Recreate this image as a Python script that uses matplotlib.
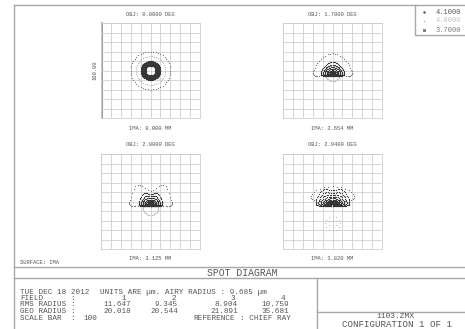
import matplotlib

matplotlib.use("Agg")
import matplotlib.pyplot as plt
import numpy as np

FIELD_DEG = [0.0, 1.7, 2.0, 2.94]
IMA_MM = [0.000, 2.654, 3.125, 3.820]
WAVELENGTHS_UM = [4.1, 4.8, 3.7]
RMS_RADIUS = [11.647, 9.345, 8.904, 10.759]
GEO_RADIUS = [20.018, 20.544, 21.891, 35.681]
AIRY_RADIUS = 9.685
SCALE_BAR = 100

# transverse ray error terms (um) per field (rows) and wavelength (columns)
SPOT_AX = [[10, 15, 20], [12, 8, 19.5], [12, 8, 21.5], [17, 8, 22]]
SPOT_AY = [[10, 15, 20], [7, 8, 11], [6.5, 8, 8], [8.5, 8, 8]]
SPOT_Q = [[0, 0, 0], [5, 0, 9.5], [3.5, 0, 5], [4.5, 0, 3]]
SPOT_H = [[0, 0, 0], [0, 0, 0], [4, 0, 14], [5, 0, 0]]
SPOT_DY = [[0, 0, 0], [-3, -3, -2.5], [-2, -6, -2], [-1, -23, 5]]
PUPIL_RINGS = [[12, 8, 8], [10, 8, 8], [10, 8, 8], [10, 2, 5]]
PUPIL_OBSC = [[0.5, 0.95, 0.95], [0.0, 0.95, 0.95], [0.0, 0.95, 0.95], [0.0, 0.4, 0.95]]
PUPIL_POWER = [[1, 1, 1], [2, 1, 1], [2, 1, 1], [1.7, 1, 1]]

WAVE_COLORS = ["#363636", "#bdbdbd", "#7a7a7a"]
KEY_COLORS = ["#555555", "#c4c4c4", "#7a7a7a"]
TEXT_COLOR = "#555555"
LINE_COLOR = "#a8a8a8"
GRID_COLOR = "#cccccc"
FONT = "Liberation Mono"

W, H = 465, 329


def spot_points(f, w):
    """Hexapolar pupil sampling pushed through the ray error terms."""
    n = PUPIL_RINGS[f][w]
    xs, ys = [], []
    for k in range(1, n + 1):
        rho = k / n
        if rho < PUPIL_OBSC[f][w]:
            continue
        r = rho ** PUPIL_POWER[f][w]
        th = np.linspace(0, 2 * np.pi, 6 * k, endpoint=False)
        c, s = np.cos(th), np.sin(th)
        ex = SPOT_AX[f][w] * r * s
        ey = (SPOT_AY[f][w] * r * c
              + SPOT_Q[f][w] * r ** 2 * c ** 2
              + SPOT_H[f][w] * r ** 3 * np.sin(2 * th) ** 2 * np.clip(c, 0, None)
              + SPOT_DY[f][w])
        xs.append(ex)
        ys.append(ey)
    return np.concatenate(xs), np.concatenate(ys)


fig = plt.figure(figsize=(W / 100, H / 100), dpi=100)
frame = fig.add_axes([0, 0, 1, 1])
frame.set_xlim(0, W)
frame.set_ylim(H, 0)
frame.axis("off")


def px_text(x, y, s, size=5.5, ha="left", color=TEXT_COLOR, **kw):
    frame.text(x, y, s, fontsize=size, ha=ha, va="center", color=color,
               family=FONT, **kw)


# page frame and title block rules
lw = 1.0
frame.plot([14, 14], [5, H], color=LINE_COLOR, lw=lw)
frame.plot([14, W], [5, 5], color=LINE_COLOR, lw=lw)
frame.plot([14, W], [267, 267], color=LINE_COLOR, lw=lw)
frame.plot([14, W], [278, 278], color=LINE_COLOR, lw=lw)
frame.plot([317, 317], [278, H], color=LINE_COLOR, lw=lw)
frame.plot([317, W], [312, 312], color=LINE_COLOR, lw=lw)
frame.plot([415, 415, W], [5, 35, 35], color=LINE_COLOR, lw=lw)

# spot panels
boxes = [(101, 23), (283, 23), (101, 154), (283, 154)]
bw, bh = 99, 95
for f, (x0, y0) in enumerate(boxes):
    ax = fig.add_axes([x0 / W, 1 - (y0 + bh) / H, bw / W, bh / H])
    ax.set_xlim(-50, 50)
    ax.set_ylim(-50, 50)
    ax.set_xticks(np.arange(-50, 51, 10))
    ax.set_yticks(np.arange(-50, 51, 10))
    ax.tick_params(length=0, labelbottom=False, labelleft=False)
    ax.grid(True, color=GRID_COLOR, lw=0.55)
    for sp in ax.spines.values():
        sp.set_color(GRID_COLOR)
        sp.set_linewidth(0.55)
    ax.patch.set_alpha(0)
    for w in (1, 2, 0):
        xs, ys = spot_points(f, w)
        ax.scatter(xs, ys, s=0.8, marker="o", color=WAVE_COLORS[w],
                   linewidths=0, zorder=3)
    cx = x0 + bw / 2
    px_text(cx, y0 - 9, f"OBJ: {FIELD_DEG[f]:.4f} DEG", size=4, ha="center")
    px_text(cx, y0 + bh + 10, f"IMA: {IMA_MM[f]:.3f} MM", size=4, ha="center")

# scale bar on the first panel
frame.plot([102, 102], [23, 118], color="#888888", lw=1.2)
frame.text(95, 70, f"{SCALE_BAR:.2f}", fontsize=4, rotation=90, ha="center",
           va="center", color=TEXT_COLOR, family=FONT)

# wavelength key
key_marks = ["o", "+", "s"]
key_sizes = [1.2, 4, 2.5]
for i, wl in enumerate(WAVELENGTHS_UM):
    y = 12 + 9 * i
    frame.scatter([424], [y], s=key_sizes[i], marker=key_marks[i],
                  color=KEY_COLORS[i], linewidths=0.6)
    px_text(436, y, f"{wl:.4f}", size=5, color=KEY_COLORS[i])

px_text(20, 263, "SURFACE: IMA", size=4)
px_text(242.5, 272.5, "SPOT DIAGRAM", size=7, ha="center")

# data block
rows_y = [292, 298.5, 305, 311.5, 318]
px_text(20, rows_y[0], "TUE DEC 18 2012")
px_text(100, rows_y[0], "UNITS ARE µm.")
px_text(165, rows_y[0], f"AIRY RADIUS : {AIRY_RADIUS:.3f} µm")
for label, y in zip(["FIELD", "RMS RADIUS", "GEO RADIUS", "SCALE BAR"], rows_y[1:]):
    px_text(20, y, label)
    px_text(70, y, ":")
value_right = [131, 178, 238, 289]
field_right = [126, 176, 235, 285]
for i in range(len(FIELD_DEG)):
    px_text(field_right[i], rows_y[1], f"{i + 1}", ha="right")
    px_text(value_right[i], rows_y[2], f"{RMS_RADIUS[i]:.3f}", ha="right")
    px_text(value_right[i], rows_y[3], f"{GEO_RADIUS[i]:.3f}", ha="right")
px_text(83, rows_y[4], f"{SCALE_BAR}")
px_text(193, rows_y[4], "REFERENCE")
px_text(240, rows_y[4], ": CHIEF RAY")

px_text(395, 316, "1103.ZMX", size=5.8, ha="center")
px_text(342, 324.8, "CONFIGURATION 1 OF 1", size=6.6)

fig.savefig("out.png", dpi=100)
